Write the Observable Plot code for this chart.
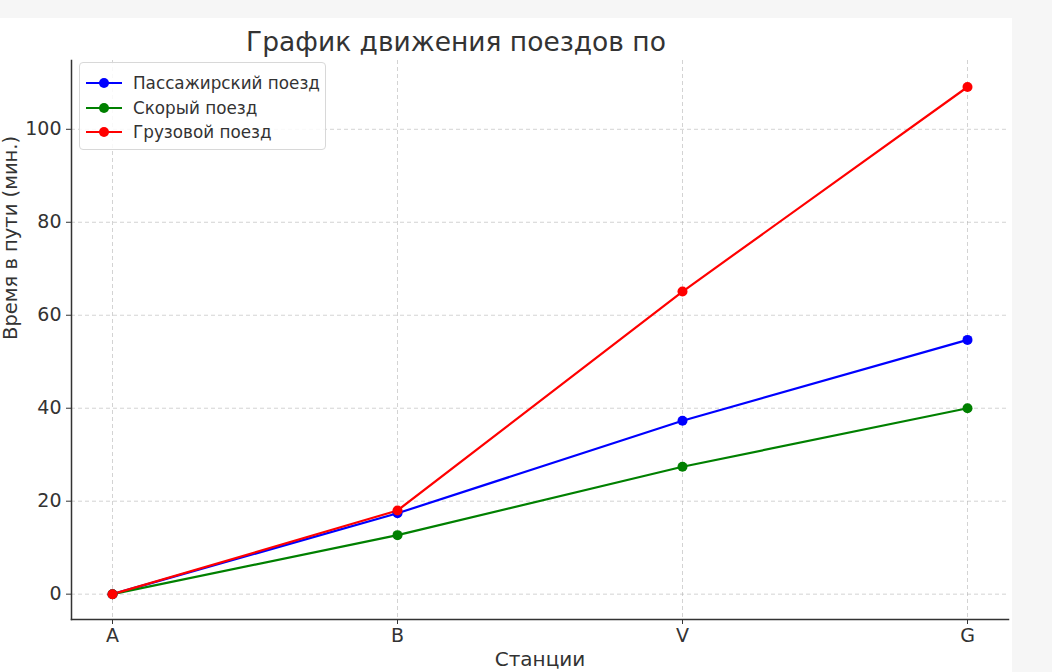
<!DOCTYPE html>
<html><head><meta charset="utf-8">
<script src="https://cdn.jsdelivr.net/npm/d3@7"></script>
<script src="https://cdn.jsdelivr.net/npm/@observablehq/plot@0.6"></script>
<style>
html,body{margin:0;padding:0;background:#fff;}
#wrap{position:relative;width:1052px;height:672px;overflow:hidden;background:#fff;font-family:"DejaVu Sans",sans-serif;}
#topband{position:absolute;left:0;top:0;width:1052px;height:18px;background:#f6f6f6;}
#rightband{position:absolute;left:1012px;top:0;width:40px;height:672px;background:#f6f6f6;}
#title{position:absolute;left:0;width:912px;top:26px;text-align:center;font-size:26.5px;color:#333;}
#legend{position:absolute;left:79px;top:62px;width:247px;height:88px;border:1px solid #d8d8d8;border-radius:4px;background:rgba(255,255,255,0.85);box-sizing:border-box;}
.item{position:absolute;left:6px;height:20px;display:flex;align-items:center;font-size:16.8px;color:#333;}
.sw{position:relative;width:36px;height:20px;margin-right:11px;}
.sw .ln{position:absolute;left:0;top:9px;width:36px;height:2px;}
.sw .dt{position:absolute;left:13px;top:5px;width:10px;height:10px;border-radius:50%;}
#chart{position:absolute;left:0;top:0;}
</style></head>
<body><div id="wrap"><div id="topband"></div><div id="rightband"></div><div id="chart"></div><div id="title">График движения поездов по</div><div id="legend"></div></div>
<script>
const stations = ["A", "B", "V", "G"];
const seriesNames = ["Пассажирский поезд", "Скорый поезд", "Грузовой поезд"];
const seriesColors = ["#0000ff", "#008000", "#ff0000"];
const passengerTimes = [0, 17.4, 37.3, 54.7];
const expressTimes = [0, 12.7, 27.4, 40.0];
const freightTimes = [0, 18.0, 65.1, 109.1];
const yTicks = [0, 20, 40, 60, 80, 100];

const allSeries = [passengerTimes, expressTimes, freightTimes];
const data = [];
allSeries.forEach((vals, si) => vals.forEach((v, i) => data.push({station: stations[i], time: v, series: seriesNames[si]})));

const plot = Plot.plot({
  width: 1052, height: 672,
  marginLeft: 71, marginRight: 44, marginTop: 60, marginBottom: 53,
  style: {fontFamily: "DejaVu Sans, sans-serif", fontSize: "19px", color: "#333", background: "transparent"},
  x: {type: "point", domain: stations, padding: 0.14, label: null},
  y: {domain: [-5.45, 114.8], label: null},
  color: {domain: seriesNames, range: seriesColors},
  marks: [
    Plot.gridX(stations, {stroke: "#b0b0b0", strokeOpacity: 0.7, strokeDasharray: "4,3", strokeWidth: 0.8}),
    Plot.gridY(yTicks, {stroke: "#b0b0b0", strokeOpacity: 0.7, strokeDasharray: "4,3", strokeWidth: 0.8}),
    Plot.axisY(yTicks, {tickSize: 5, tickPadding: 5, fontSize: 19, stroke: "#333", fill: "#333"}),
    Plot.axisX(stations, {tickSize: 5, tickPadding: 4, fontSize: 19, stroke: "#333", fill: "#333"}),
    Plot.frame({anchor: "left", stroke: "#333", strokeWidth: 1.5}),
    Plot.frame({anchor: "bottom", stroke: "#333", strokeWidth: 1.5}),
    Plot.line(data, {x: "station", y: "time", stroke: "series", strokeWidth: 2.2}),
    Plot.dot(data, {x: "station", y: "time", fill: "series", r: 5}),
    Plot.text(["Время в пути (мин.)"], {frameAnchor: "left", dx: -61, rotate: -90, fontSize: 19.5, fill: "#333"}),
    Plot.text(["Станции"], {frameAnchor: "bottom", dy: 46, fontSize: 20, fill: "#333"})
  ]
});
document.getElementById("chart").appendChild(plot);

const legend = document.getElementById("legend");
seriesNames.forEach((name, i) => {
  const it = document.createElement("div");
  it.className = "item";
  it.style.top = (10 + i * 24.5) + "px";
  it.innerHTML = `<div class="sw"><div class="ln" style="background:${seriesColors[i]}"></div><div class="dt" style="background:${seriesColors[i]}"></div></div><span>${name}</span>`;
  legend.appendChild(it);
});
</script></body></html>
